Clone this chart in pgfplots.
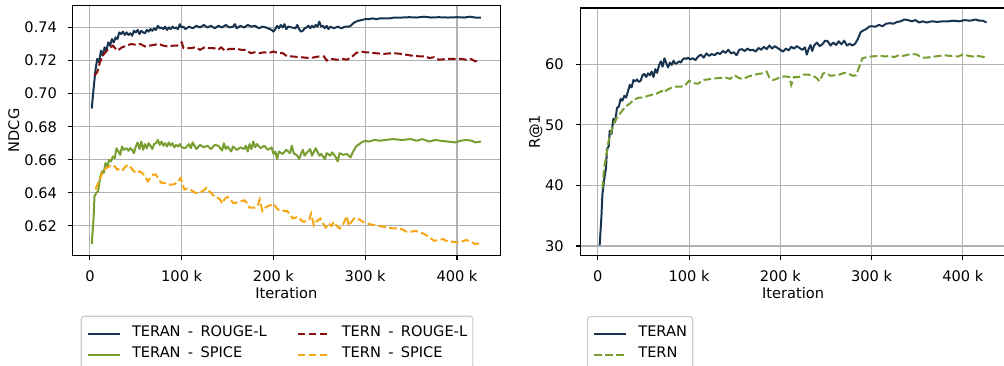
\documentclass[border=0pt]{standalone}
\usepackage{pgfplots}
\pgfplotsset{compat=1.18}
\usepackage{fontspec}
\setmainfont{DejaVu Sans}
\definecolor{cnavy}{RGB}{24,52,78}
\definecolor{cred}{RGB}{139,14,14}
\definecolor{cgreen}{RGB}{120,158,50}
\definecolor{corange}{RGB}{246,166,20}
\pgfplotsset{
  common/.style={
    scale only axis,
    xmin=-19.2, xmax=447.2,
    xtick={0,100,200,300,400},
    xticklabels={0,100 k,200 k,300 k,400 k},
    tick align=outside,
    major tick length=4.5pt,
    tick pos=left,
    tick style={black, line width=1.1pt},
    axis line style={line width=1.1pt},
    grid=major,
    major grid style={gray!60, line width=1.1pt},
    xlabel={Iteration},
    xlabel style={at={(axis description cs:0.5,0)}, anchor=base, yshift=-43.2pt},
    xticklabel style={anchor=north, inner sep=0pt, yshift=-9.8pt},
    yticklabel style={anchor=east, inner sep=0pt, xshift=-10.6pt},
    legend cell align=left,
    legend image code/.code={\draw[##1] (0pt,-2pt) -- (32pt,-2pt);},
    legend style={draw=gray!40, line width=1.1pt, rounded corners=3pt, fill=white,
      inner xsep=5.8pt, inner ysep=9pt, row sep=8pt, nodes={inner sep=0pt},
      /tikz/every odd column/.append style={column sep=11pt},
      /tikz/every even column/.append style={column sep=30pt}},
  },
  solidline/.style={line width=2pt, line join=round},
  dashline/.style={line width=2pt, dash pattern=on 7.7pt off 3.3pt},
}
\begin{document}
\fontsize{14.6pt}{17pt}\selectfont
\begin{tikzpicture}
\path[use as bounding box] (0pt,0pt) rectangle (1004pt,366pt);
\begin{axis}[common,
  at={(72.3pt,110.3pt)}, anchor=south west, width=428pt, height=250.4pt,
  ymin=0.602, ymax=0.7534,
  ytick={0.62,0.64,0.66,0.68,0.70,0.72,0.74},
  yticklabels={0.62,0.64,0.66,0.68,0.70,0.72,0.74},
  ylabel={NDCG},
  ylabel style={at={(axis description cs:-0.1245,0.5)}, anchor=base},
  legend columns=2,
  legend style={at={(axis description cs:0.0196,-0.2396)}, anchor=north west},
]
\addplot[solidline, cnavy] coordinates {(2,0.691)(4,0.703)(6,0.714)(8,0.721)(10,0.719)(12,0.726)(14,0.723)(16,0.728)(18,0.726)(20,0.731)(22,0.729)(24,0.733)(26,0.731)(28,0.734)(30,0.733)(32,0.737)(34,0.736)(36,0.7375)(38,0.7355)(40,0.737)(42,0.7355)(44,0.7365)(46,0.735)(48,0.738)(50,0.737)(52,0.7385)(54,0.736)(56,0.738)(58,0.737)(60,0.7365)(62,0.7385)(64,0.7375)(66,0.739)(68,0.738)(70,0.7395)(72,0.7385)(74,0.741)(76,0.7395)(78,0.740)(80,0.739)(82,0.7405)(84,0.7385)(86,0.740)(88,0.739)(90,0.7405)(92,0.7395)(94,0.740)(96,0.739)(98,0.742)(100,0.740)(102,0.7405)(104,0.739)(108,0.7405)(112,0.7395)(116,0.741)(120,0.7400)(124,0.7415)(128,0.740)(132,0.741)(136,0.7395)(140,0.741)(144,0.740)(148,0.7415)(152,0.740)(156,0.7405)(158,0.742)(160,0.7395)(164,0.741)(168,0.740)(172,0.7415)(176,0.7405)(180,0.741)(184,0.7395)(188,0.7405)(192,0.740)(196,0.739)(198,0.7385)(200,0.7375)(202,0.739)(204,0.741)(206,0.7395)(208,0.7415)(210,0.740)(212,0.742)(214,0.739)(216,0.7405)(220,0.740)(224,0.7395)(226,0.7415)(228,0.739)(230,0.7375)(232,0.738)(234,0.7395)(236,0.740)(238,0.741)(240,0.7395)(242,0.741)(244,0.740)(246,0.7415)(248,0.7405)(250,0.7435)(252,0.7405)(254,0.741)(256,0.7395)(258,0.741)(260,0.739)(262,0.7405)(266,0.7395)(270,0.7405)(274,0.7395)(278,0.7405)(282,0.7405)(284,0.741)(288,0.743)(292,0.744)(296,0.7445)(300,0.745)(304,0.745)(308,0.7455)(312,0.745)(316,0.7455)(320,0.7455)(326,0.7455)(332,0.746)(340,0.746)(348,0.7462)(356,0.746)(364,0.7465)(372,0.746)(380,0.7462)(390,0.746)(400,0.7462)(408,0.746)(414,0.7465)(420,0.746)(426,0.746)};
\addlegendentry{TERAN\enspace-\enspace ROUGE-L}
\addplot[dashline, cred] coordinates {(5,0.711)(8,0.713)(11,0.719)(14,0.723)(17,0.725)(20,0.727)(25,0.729)(30,0.726)(35,0.728)(40,0.729)(45,0.730)(50,0.7295)(55,0.730)(60,0.7285)(65,0.729)(70,0.7295)(75,0.730)(80,0.729)(85,0.7285)(90,0.729)(95,0.729)(100,0.731)(102,0.7275)(110,0.7275)(115,0.728)(120,0.7265)(125,0.728)(130,0.7275)(135,0.7275)(140,0.7265)(143,0.728)(147,0.726)(152,0.727)(160,0.727)(165,0.7265)(170,0.7265)(175,0.7245)(180,0.725)(185,0.7245)(190,0.725)(195,0.7245)(200,0.7255)(205,0.7245)(210,0.7245)(215,0.7225)(220,0.7225)(230,0.722)(240,0.7215)(245,0.722)(250,0.7225)(255,0.7225)(258,0.720)(262,0.721)(270,0.7205)(275,0.721)(280,0.7205)(285,0.722)(290,0.7245)(295,0.7255)(300,0.725)(305,0.725)(310,0.7245)(320,0.724)(330,0.7245)(340,0.724)(350,0.723)(360,0.7225)(365,0.7225)(370,0.7215)(375,0.722)(380,0.7205)(390,0.721)(400,0.721)(405,0.721)(410,0.7205)(415,0.721)(420,0.7195)(425,0.720)};
\addlegendentry{TERN\enspace-\enspace ROUGE-L}
\addplot[solidline, cgreen] coordinates {(2,0.609)(4,0.625)(5,0.638)(7,0.640)(9,0.641)(11,0.649)(13,0.653)(15,0.652)(17,0.658)(19,0.656)(21,0.660)(23,0.659)(25,0.662)(27,0.661)(29,0.667)(31,0.665)(33,0.663)(35,0.668)(37,0.666)(40,0.667)(42,0.6655)(44,0.667)(46,0.666)(48,0.664)(50,0.668)(52,0.6705)(54,0.6665)(56,0.671)(58,0.666)(60,0.6695)(62,0.667)(64,0.670)(66,0.6685)(68,0.6665)(70,0.6695)(72,0.670)(74,0.672)(76,0.669)(78,0.671)(80,0.6685)(82,0.670)(84,0.668)(86,0.6705)(88,0.6685)(90,0.670)(92,0.6675)(94,0.669)(96,0.668)(98,0.6695)(100,0.6675)(104,0.667)(108,0.6695)(110,0.667)(112,0.6705)(116,0.6665)(120,0.669)(124,0.6675)(128,0.6685)(132,0.6665)(136,0.669)(140,0.6685)(144,0.6655)(146,0.670)(148,0.6665)(150,0.668)(154,0.665)(156,0.668)(160,0.666)(164,0.6675)(168,0.6665)(170,0.6685)(172,0.665)(174,0.6695)(176,0.6665)(178,0.671)(180,0.6675)(182,0.6695)(186,0.667)(190,0.6685)(194,0.666)(198,0.6675)(200,0.6635)(202,0.665)(204,0.6605)(206,0.665)(210,0.6635)(214,0.666)(218,0.664)(220,0.6685)(222,0.664)(226,0.6625)(228,0.6605)(230,0.6635)(232,0.666)(234,0.6625)(236,0.664)(240,0.6665)(242,0.6625)(246,0.667)(250,0.6625)(252,0.6635)(256,0.6605)(258,0.664)(262,0.6625)(264,0.6645)(268,0.6615)(270,0.659)(272,0.664)(276,0.663)(280,0.6635)(284,0.6615)(286,0.664)(290,0.668)(296,0.6705)(300,0.6715)(304,0.671)(310,0.672)(316,0.6715)(322,0.672)(330,0.6725)(340,0.672)(350,0.6725)(356,0.6715)(362,0.6725)(370,0.671)(376,0.672)(382,0.6715)(390,0.671)(398,0.6705)(404,0.6715)(410,0.672)(416,0.6715)(420,0.6705)(426,0.671)};
\addlegendentry{TERAN\enspace-\enspace SPICE}
\addplot[dashline, corange] coordinates {(6,0.642)(9,0.646)(12,0.650)(15,0.654)(18,0.655)(21,0.656)(24,0.657)(27,0.656)(30,0.654)(33,0.655)(36,0.654)(39,0.656)(42,0.657)(45,0.655)(48,0.653)(51,0.652)(54,0.653)(57,0.652)(60,0.650)(63,0.647)(66,0.649)(69,0.651)(72,0.651)(75,0.648)(78,0.646)(81,0.646)(84,0.645)(87,0.645)(90,0.645)(93,0.6455)(96,0.647)(99,0.649)(101,0.645)(103,0.642)(106,0.6425)(109,0.642)(112,0.641)(115,0.640)(118,0.640)(121,0.6405)(124,0.6415)(127,0.643)(130,0.641)(133,0.6395)(136,0.6375)(139,0.637)(142,0.636)(144,0.6335)(147,0.6365)(150,0.6375)(153,0.636)(156,0.634)(159,0.634)(162,0.6345)(165,0.635)(168,0.6355)(171,0.634)(174,0.631)(177,0.631)(180,0.631)(183,0.6325)(185,0.636)(188,0.629)(191,0.631)(194,0.632)(197,0.6325)(200,0.6335)(203,0.631)(206,0.6295)(209,0.6295)(212,0.629)(215,0.629)(218,0.627)(221,0.6245)(224,0.625)(227,0.6255)(230,0.6235)(233,0.6225)(236,0.623)(239,0.624)(241,0.6275)(244,0.6205)(246,0.6225)(249,0.6235)(251,0.6245)(254,0.6215)(257,0.619)(260,0.6215)(263,0.620)(266,0.6225)(269,0.620)(272,0.6185)(275,0.620)(278,0.6235)(280,0.626)(282,0.620)(285,0.6225)(288,0.6245)(291,0.6235)(294,0.624)(297,0.6225)(300,0.622)(305,0.621)(310,0.6205)(315,0.620)(320,0.6195)(325,0.619)(330,0.6185)(335,0.6185)(340,0.618)(345,0.6165)(350,0.6165)(355,0.617)(360,0.616)(365,0.615)(370,0.613)(375,0.611)(380,0.6115)(385,0.612)(390,0.6105)(395,0.6105)(400,0.610)(405,0.6105)(410,0.6115)(415,0.6105)(420,0.609)(425,0.6095)};
\addlegendentry{TERN\enspace-\enspace SPICE}
\end{axis}
\begin{axis}[common,
  at={(580.3pt,110.3pt)}, anchor=south west, width=425.6pt, height=247.7pt,
  ymin=28.4, ymax=69.3,
  ytick={30,40,50,60},
  yticklabels={30,40,50,60},
  yticklabel style={xshift=-1.4pt},
  ylabel={R@1},
  ylabel style={at={(axis description cs:-0.0949,0.5)}, anchor=base},
  legend columns=1,
  legend style={at={(axis description cs:0.0157,-0.2434)}, anchor=north west},
]
\addplot[solidline, cnavy] coordinates {(2,30.1)(4,35)(5,38.5)(7,41)(9,43)(10,46)(12,46.5)(13,49)(15,48.5)(17,51)(19,50.5)(21,52.8)(23,53)(25,54.3)(27,54)(29,54.8)(31,54.5)(33,55.5)(35,56.6)(37,56.2)(39,57.4)(41,57.2)(43,57.5)(45,57.1)(47,57.3)(49,58.2)(51,58.4)(53,57.9)(55,58.5)(57,58.2)(59,58.8)(61,57.9)(63,59.2)(65,58.6)(67,59.8)(69,60.5)(71,59.6)(73,61)(75,60.2)(77,59.5)(79,60.3)(81,59.9)(83,60.6)(85,60.1)(87,60.2)(89,60.5)(91,60.3)(93,60.8)(95,61)(97,60.9)(99,61.1)(101,60.8)(104,61)(107,60.7)(110,61.3)(113,61.6)(116,61.1)(119,61.8)(122,61.4)(125,61.7)(128,61.5)(131,61.9)(134,61.7)(137,62.2)(140,61.9)(143,62.4)(146,61.8)(149,62)(152,61.5)(155,62.4)(158,62.5)(161,62.2)(164,62.6)(167,62.3)(170,62.4)(173,62.1)(176,62.7)(179,62.4)(182,62.9)(185,62.5)(188,63.1)(191,62.6)(194,63)(197,62.7)(200,62.4)(203,62.1)(206,62.6)(209,62.3)(212,62.9)(215,62.6)(218,63)(221,62.7)(224,62.4)(227,62.8)(229,61.6)(231,62.5)(233,63.2)(235,62.2)(237,63.1)(240,63.6)(243,63)(246,63.3)(249,63.9)(252,63.8)(255,63.1)(258,63.6)(261,63.2)(264,63.8)(267,63.3)(270,63.9)(273,63.1)(276,63.4)(279,63.1)(282,63.4)(285,64.2)(288,65.3)(291,65.6)(294,65.8)(297,66.2)(300,66.3)(304,66.2)(308,66.5)(312,66.3)(316,66.7)(320,66.8)(324,66.7)(328,67)(332,67.1)(336,67.4)(340,67.3)(344,67.1)(348,67.3)(352,66.9)(356,67.1)(360,66.9)(366,67.1)(372,67)(378,67.1)(384,67.1)(390,67.2)(396,67.1)(402,67.3)(408,67.2)(414,67.4)(418,67.2)(422,67.2)(426,66.9)};
\addlegendentry{TERAN}
\addplot[dashline, cgreen] coordinates {(5,39.5)(7,43)(10,45.5)(12,47.5)(15,49)(18,50.5)(21,51.2)(25,52)(30,53)(35,53.5)(40,54.2)(45,54.5)(50,54.5)(55,54.8)(60,55)(65,55.2)(70,55.6)(72,55.3)(75,55.7)(80,56.1)(85,56.3)(90,56.3)(95,56.4)(100,57.3)(105,56.9)(110,56.8)(115,57.4)(120,57.5)(125,57.6)(130,57.7)(140,57.8)(145,57.6)(150,58.2)(155,57.7)(160,57.6)(165,58)(170,58.2)(175,58.4)(180,58.5)(185,58.8)(188,57.8)(192,57.4)(196,57.6)(200,57.9)(205,58)(210,57.9)(212,56.6)(215,57.9)(220,57.9)(225,58.3)(230,58.3)(235,58.2)(240,57.7)(243,57.2)(247,58.5)(250,58.6)(255,58.1)(260,58.2)(265,58.3)(270,58.6)(275,58.4)(280,58.1)(283,58.2)(286,59.4)(290,61)(295,61.2)(300,61.3)(310,61.4)(315,61.3)(320,61.4)(325,61.2)(330,61.5)(335,61.4)(340,61.6)(345,61.7)(350,61.6)(355,61.1)(360,61.1)(370,61.3)(380,61.5)(385,61.4)(395,61.3)(400,61.6)(410,61.3)(415,61.4)(420,61.3)(426,61.1)};
\addlegendentry{TERN}
\end{axis}
\end{tikzpicture}
\end{document}
